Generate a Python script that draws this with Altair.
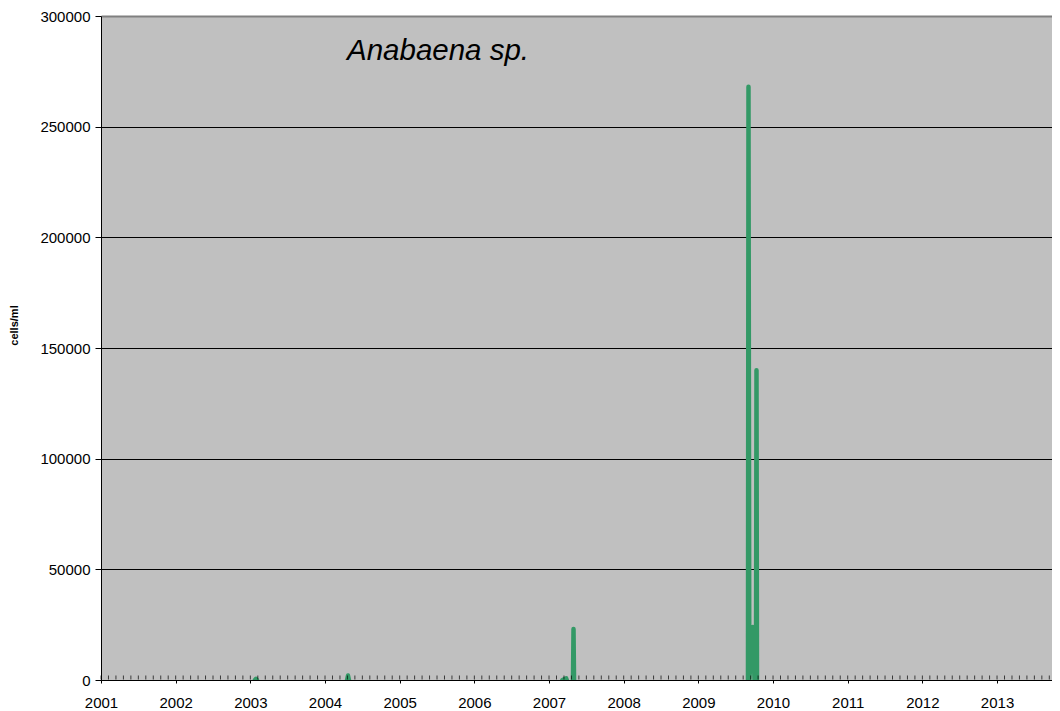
import altair as alt
import pandas as pd

# Anabaena sp. counts (decimal year, cells/ml), drawn as separate bloom episodes
seg_id = [1, 1, 1,
          2, 2, 2,
          3, 3, 3,
          4, 4, 4,
          5, 5, 5, 5, 5, 5, 5, 5]
year = [2003.062, 2003.076, 2003.088,
        2004.296, 2004.308, 2004.320,
        2007.180, 2007.230, 2007.238,
        2007.321, 2007.328, 2007.335,
        2009.6646, 2009.6713, 2009.682, 2009.729, 2009.752, 2009.772, 2009.7785, 2009.785]
cells = [0, 500, 0,
         0, 2000, 0,
         0, 700, 0,
         0, 23000, 0,
         0, 268000, 0, 24000, 0, 0, 140000, 0]

year_ticks = list(range(2001, 2014))
y_ticks = [0, 50000, 100000, 150000, 200000, 250000, 300000]
minor_ticks = [round(2001 + i / 10, 1) for i in range(128)]

FONT = "Liberation Sans"

df = pd.DataFrame({"seg": seg_id, "year": year, "cells": cells})
ticks_df = pd.DataFrame({"year": minor_ticks})

x_scale = alt.Scale(domain=[2001, 2013.736], nice=False, zero=False)
y_scale = alt.Scale(domain=[0, 300000], nice=False)

x_axis = alt.Axis(
    values=year_ticks, format="d", title=None, grid=False,
    labelFont=FONT, labelFontSize=15, labelColor="black",
    tickColor="black", tickSize=3, domainColor="black",
    labelPadding=12, labelFlush=False, labelOverlap=False, zindex=1)

y_axis = alt.Axis(
    values=y_ticks, format="d", title="cells/ml",
    titleFont=FONT, titleFontSize=11, titleFontWeight="bold", titleColor="black",
    titlePadding=20, titleY=309,
    labelFont=FONT, labelFontSize=15, labelColor="black",
    tickColor="black", tickSize=6, labelPadding=5, domainColor="black",
    grid=True,
    gridColor=alt.condition("datum.value >= 300000", alt.value("#808080"), alt.value("#000000")),
    gridWidth=alt.condition("datum.value >= 300000", alt.value(2), alt.value(1)),
    gridOpacity=1)

line = alt.Chart(df).mark_line(
    color="#339966", strokeWidth=4.5, strokeCap="round", strokeJoin="round", clip=True
).encode(
    x=alt.X("year:Q", scale=x_scale, axis=x_axis),
    y=alt.Y("cells:Q", scale=y_scale, axis=y_axis),
    detail="seg:N",
)

minor = alt.Chart(ticks_df).mark_tick(
    orient="vertical", size=4, thickness=1, color="black", yOffset=-2.5
).encode(
    x=alt.X("year:Q", scale=x_scale, axis=x_axis),
    y=alt.YDatum(0, scale=y_scale, axis=y_axis),
)

chart = alt.layer(line, minor).properties(
    width=951,
    height=664,
    padding={"left": 93, "top": 8, "right": 0, "bottom": 31},
    autosize=alt.AutoSizeParams(type="none"),
    background="white",
    title=alt.TitleParams(
        "Anabaena sp.", font=FONT, fontSize=29.5, fontStyle="italic", fontWeight="normal",
        color="black", anchor="start", frame="group", orient="top",
        offset=0, dx=246, dy=80, baseline="alphabetic"),
).configure_view(fill="#C0C0C0", stroke="transparent")

chart.save("out.html", embed_options={"renderer": "svg", "actions": False})
